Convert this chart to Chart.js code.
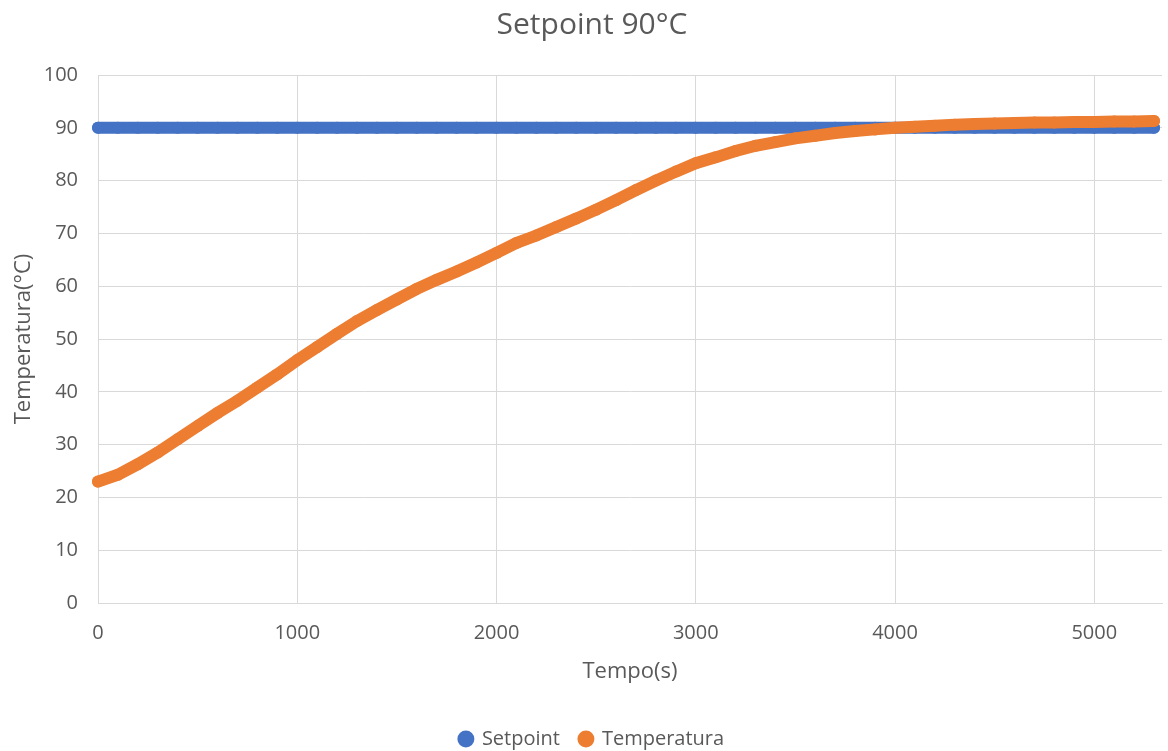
<!DOCTYPE html>
<html lang="pt">
<head>
    <meta charset="UTF-8">
    <title>Setpoint 90°C</title>
    <style>
        body {
            margin: 0;
            background-color: #fff;
        }
        .chart-box {
            width: 1168px;
            height: 751px;
            position: relative;
        }
    </style>
</head>
<body>
    <div class="chart-box">
        <canvas id="tempChart"></canvas>
    </div>
    <script src="https://cdn.jsdelivr.net/npm/chart.js@4/dist/chart.umd.min.js"></script>
    <script>
        // tempo (s), leitura a cada 100 s
        const tempo = [0, 100, 200, 300, 400, 500, 600, 700, 800, 900,
            1000, 1100, 1200, 1300, 1400, 1500, 1600, 1700, 1800, 1900,
            2000, 2100, 2200, 2300, 2400, 2500, 2600, 2700, 2800, 2900,
            3000, 3100, 3200, 3300, 3400, 3500, 3600, 3700, 3800, 3900,
            4000, 4100, 4200, 4300, 4400, 4500, 4600, 4700, 4800, 4900,
            5000, 5100, 5200, 5300];
        const setpoint = [90, 90, 90, 90, 90, 90, 90, 90, 90, 90,
            90, 90, 90, 90, 90, 90, 90, 90, 90, 90,
            90, 90, 90, 90, 90, 90, 90, 90, 90, 90,
            90, 90, 90, 90, 90, 90, 90, 90, 90, 90,
            90, 90, 90, 90, 90, 90, 90, 90, 90, 90,
            90, 90, 90, 90];
        const temperatura = [23.0, 24.3, 26.3, 28.5, 31.0, 33.5, 36.0, 38.3, 40.8, 43.3,
            46.0, 48.5, 51.0, 53.4, 55.5, 57.5, 59.5, 61.2, 62.8, 64.5,
            66.3, 68.2, 69.6, 71.2, 72.8, 74.5, 76.3, 78.2, 80.0, 81.7,
            83.3, 84.4, 85.6, 86.6, 87.3, 88.0, 88.5, 89.0, 89.4, 89.7,
            90.0, 90.2, 90.4, 90.6, 90.7, 90.8, 90.9, 91.0, 91.0, 91.1,
            91.1, 91.2, 91.2, 91.3];
        const xTicks = [0, 1000, 2000, 3000, 4000, 5000];

        const grey = '#595959';
        const gridGrey = '#d9d9d9';
        const font = 'Open Sans';

        const toPoints = (ys) => tempo.map((t, i) => ({ x: t, y: ys[i] }));

        const ctx = document.getElementById('tempChart').getContext('2d');
        new Chart(ctx, {
            type: 'scatter',
            data: {
                datasets: [{
                    label: 'Setpoint',
                    data: toPoints(setpoint),
                    backgroundColor: '#4472C4',
                    borderColor: '#4472C4',
                    showLine: true,
                    borderWidth: 12,
                    borderCapStyle: 'round',
                    pointRadius: 6,
                    pointBorderWidth: 0,
                    clip: false,
                    order: 2
                }, {
                    label: 'Temperatura',
                    data: toPoints(temperatura),
                    backgroundColor: '#ED7D31',
                    borderColor: '#ED7D31',
                    showLine: true,
                    borderWidth: 12,
                    borderCapStyle: 'round',
                    pointRadius: 6,
                    pointBorderWidth: 0,
                    clip: false,
                    order: 1
                }]
            },
            options: {
                responsive: true,
                maintainAspectRatio: false,
                animation: false,
                layout: {
                    padding: { left: 20, right: 4, top: 0, bottom: 0 }
                },
                plugins: {
                    title: {
                        display: true,
                        text: 'Setpoint 90°C',
                        color: grey,
                        font: { family: font, size: 30, weight: 'normal' },
                        padding: { top: 7, bottom: 32 }
                    },
                    legend: {
                        position: 'bottom',
                        maxHeight: 42,
                        labels: {
                            usePointStyle: true,
                            pointStyle: 'circle',
                            boxWidth: 12,
                            boxHeight: 12,
                            padding: 20,
                            color: grey,
                            font: { family: font, size: 20 },
                            sort: (a, b) => a.datasetIndex - b.datasetIndex
                        }
                    },
                    tooltip: { enabled: false }
                },
                scales: {
                    x: {
                        type: 'linear',
                        min: 0,
                        max: 5340,
                        afterFit: (scale) => { scale.height = 106; },
                        afterBuildTicks: (scale) => {
                            scale.ticks = xTicks.map((v) => ({ value: v }));
                        },
                        ticks: {
                            color: grey,
                            font: { family: font, size: 20 },
                            padding: 18,
                            callback: (v) => String(v)
                        },
                        grid: { color: gridGrey, drawTicks: false },
                        border: { color: gridGrey },
                        title: {
                            display: true,
                            text: 'Tempo(s)',
                            color: grey,
                            font: { family: font, size: 22 },
                            padding: { top: 4, bottom: 24 }
                        }
                    },
                    y: {
                        min: 0,
                        max: 100,
                        afterFit: (scale) => { scale.width = 78; },
                        ticks: {
                            stepSize: 10,
                            color: grey,
                            font: { family: font, size: 20 },
                            padding: 20
                        },
                        grid: { color: gridGrey, drawTicks: false },
                        border: { color: gridGrey },
                        title: {
                            display: true,
                            text: 'Temperatura(°C)',
                            color: grey,
                            font: { family: font, size: 22 },
                            padding: { top: -9, bottom: 0 }
                        }
                    }
                }
            }
        });
    </script>
</body>
</html>
